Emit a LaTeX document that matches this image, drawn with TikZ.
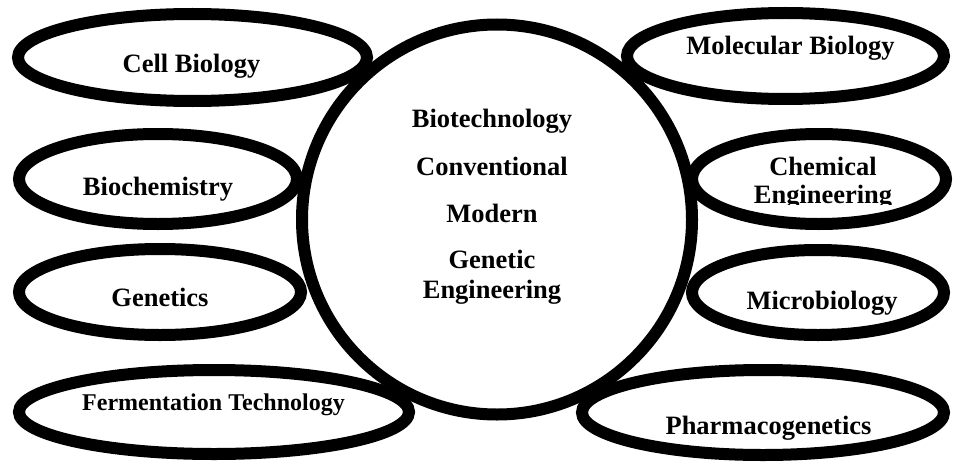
\documentclass[tikz,border=0pt]{standalone}
\usepackage{fontspec}
\setmainfont{Liberation Serif}
\usepackage{tikz}
\usetikzlibrary{shapes.geometric}

\begin{document}
\begin{tikzpicture}[
      every node/.style={font=\bfseries\fontsize{22.6}{26}\selectfont},
      hub/.style={circle, draw, line width=0.36cm, inner sep=0pt,
                  minimum size=11.7cm},
      ov/.style={ellipse, draw, line width=0.36cm, inner sep=0pt},
      lb/.style={anchor=base, inner sep=0pt},
      sm/.style={font=\bfseries\fontsize{20.5}{24}\selectfont}
    ]
    \useasboundingbox (0,0) rectangle (28.59,-13.83);
    % central circle
    \node[hub] (bt) at (14.91, -6.585) {};
    % left ovals
    \node[ov, minimum width=10.47cm, minimum height=2.61cm] (cell) at (5.775, -1.725) {};
    \node[ov, minimum width=8.34cm,  minimum height=2.7cm]  (bioc) at (4.74, -5.37) {};
    \node[ov, minimum width=8.46cm,  minimum height=2.58cm] (gene) at (4.8, -8.76) {};
    \node[ov, minimum width=11.7cm,  minimum height=2.52cm] (ferm) at (6.42, -12.36) {};
    % right ovals
    \node[ov, minimum width=9.51cm,  minimum height=2.58cm] (molb) at (23.565, -1.68) {};
    \node[ov, minimum width=7.62cm,  minimum height=2.7cm]  (chem) at (24.57, -5.37) {};
    \node[ov, minimum width=7.56cm,  minimum height=2.55cm] (micb) at (24.54, -8.775) {};
    \node[ov, minimum width=10.86cm, minimum height=2.55cm] (phar) at (22.89, -12.375) {};
    % circle text
    \node[lb] (t1) at (14.76, -3.81) {Biotechnology};
    \node[lb] (t2) at (14.76, -5.25) {Conventional};
    \node[lb] (t3) at (14.76, -6.66) {Modern};
    \node[lb] (t4) at (14.76, -8.04) {Genetic};
    \node[lb] (t5) at (14.76, -8.94) {Engineering};
    % oval labels
    \node[lb] (l1) at (5.745, -2.16) {Cell Biology};
    \node[lb] (l2) at (4.74, -5.85) {Biochemistry};
    \node[lb] (l3) at (4.8, -9.18) {Genetics};
    \node[lb, sm] (l4) at (6.405, -12.3) {Fermentation Technology};
    \node[lb] (l5) at (23.715, -1.65) {Molecular Biology};
    \node[lb] (l6) at (24.69, -5.25) {Chemical};
    \begin{scope}
      \clip (21, -5.4) rectangle (28.59, -6.12);
      \node[lb] (l7) at (24.69, -6.09) {Engineering};
    \end{scope}
    \node[lb] (l8) at (24.66, -9.27) {Microbiology};
    \node[lb] (l9) at (23.055, -13.02) {Pharmacogenetics};
  \end{tikzpicture}
\end{document}
